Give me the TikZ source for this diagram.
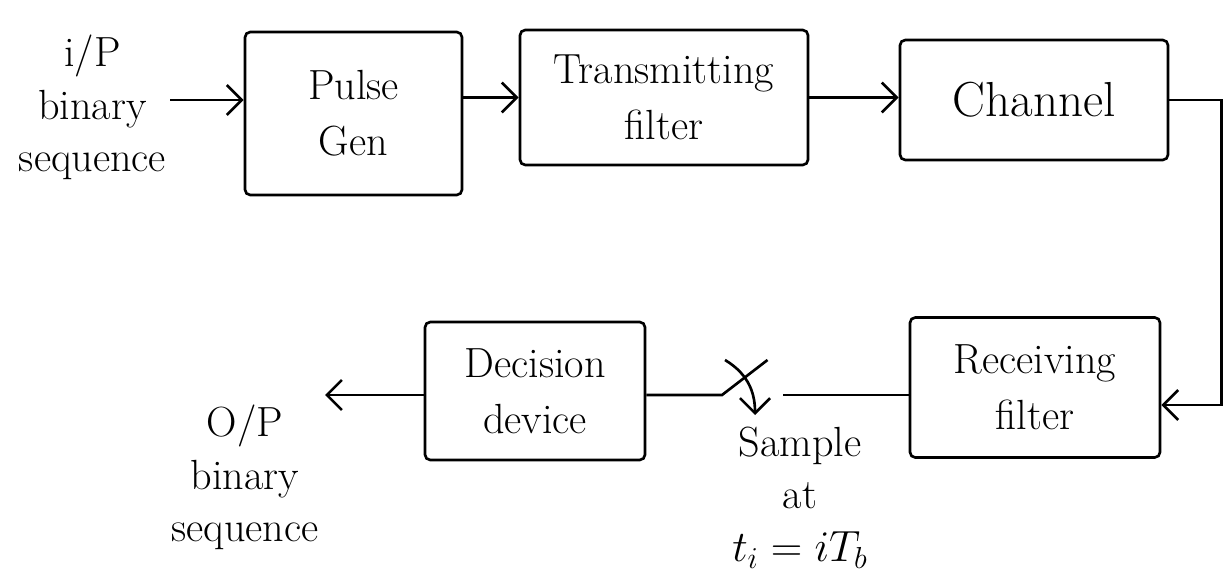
\documentclass[tikz,border=0pt]{standalone}
\usetikzlibrary{positioning}
\usetikzlibrary{arrows.meta}
\tikzset{block/.style={draw,line width=1.5pt,rounded corners=3pt,
    align=center,font=\fontsize{24}{32}\selectfont},
    txt/.style={align=center,font=\fontsize{24}{30}\selectfont},
    sigarrow/.style={-{Straight Barb[length=3mm,width=6mm,line width=1.5pt]},
    line width=1.5pt},
    sigline/.style={-,line width=1.5pt}}

\begin{document}
\begin{tikzpicture}
        \useasboundingbox (0,0) rectangle (24.46,-11.58);
        \node[block,minimum width=4.34cm,minimum height=3.26cm] (pulse) at (7.07,-2.27) {Pulse\\Gen};
        \node[block,minimum width=5.76cm,minimum height=2.7cm] (tx) at (13.28,-1.95) {Transmitting\\filter};
        \node[block,minimum width=5.36cm,minimum height=2.4cm,font=\fontsize{28}{34}\selectfont] (channel) at (20.68,-2.0) {Channel};
        \node[block,minimum width=5.0cm,minimum height=2.8cm] (rx) at (20.7,-7.75) {Receiving\\filter};
        \node[block,minimum width=4.4cm,minimum height=2.76cm] (dec) at (10.7,-7.82) {Decision\\device};
        \node[txt] (intxt) at (1.85,-2.15) {i/P\\binary\\sequence};
        \node[txt] (outtxt) at (4.9,-9.55) {O/P\\binary\\sequence};
        \node[txt] (smptxt) at (16.0,-9.95) {Sample\\at\\$t_i = iT_b$};
        \coordinate (inbeg) at (3.4,-2.0);
        \coordinate (outend) at (6.5,-7.9);
        \coordinate (sw1) at (14.44,-7.9);
        \coordinate (sw2) at (15.66,-7.9);
        \coordinate (arm) at (15.35,-7.2);
        \draw[sigarrow](inbeg)--(pulse.west|-inbeg);
        \draw[sigarrow](pulse.east|-tx.west)--(tx.west);
        \draw[sigarrow](tx.east)--(channel.west|-tx.east);
        \draw[sigarrow](channel.east)--++(1.04,0)|-([yshift=-0.35cm]rx.east);
        \draw[sigline](rx.west|-sw2)--(sw2);
        \draw[sigline](dec.east|-sw1)--(sw1)--(arm);
        \draw[sigarrow](14.5,-7.2) .. controls (15.0,-7.5) and (15.1,-7.9) .. (15.1,-8.3);
        \draw[sigarrow](dec.west|-outend)--(outend);
    \end{tikzpicture}
\end{document}
